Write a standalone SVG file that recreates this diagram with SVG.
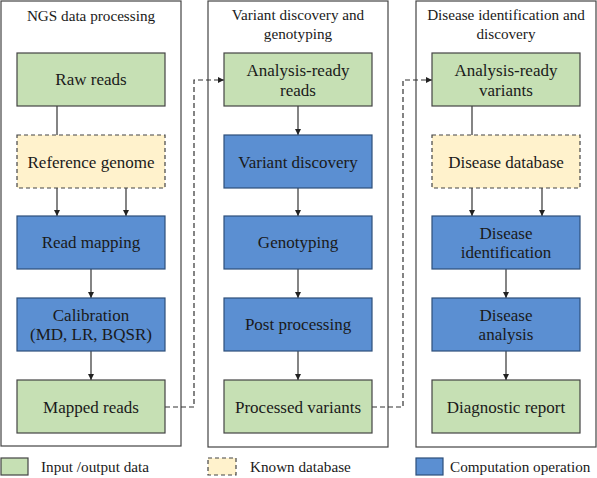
<svg xmlns="http://www.w3.org/2000/svg" width="597" height="478" viewBox="0 0 597 478">
<defs>
<marker id="ah" viewBox="0 0 8 8" refX="8" refY="4" markerWidth="6" markerHeight="6" orient="auto" markerUnits="userSpaceOnUse">
<path d="M0,0 L8,4 L0,8 z" fill="#222"/>
</marker>
<style>
text{font-family:"Times New Roman","Liberation Serif",Tinos,"Noto Serif","DejaVu Serif",serif;fill:#1a1a1a;text-anchor:middle}
.t{font-size:15.2px}
.b{font-size:17px}
.l{font-size:15.2px;text-anchor:start}
.panel{fill:#fff;stroke:#444;stroke-width:1.2}
.io{fill:#c6e0b4;stroke:#444;stroke-width:1.2}
.db{fill:#fff2cc;stroke:#444;stroke-width:1.2;stroke-dasharray:4,3}
.op{fill:#5b8fd2;stroke:#2e4f7a;stroke-width:1.2}
.c{fill:none;stroke:#333;stroke-width:1.2}
.d{fill:none;stroke:#333;stroke-width:1.2;stroke-dasharray:5,3}
</style>
</defs>
<rect width="597" height="478" fill="#fff"/>
<g id="panel1">
<rect class="panel" x="1" y="1" width="180" height="445"/>
<text class="t" x="91" y="21">NGS data processing</text>
</g>
<g id="panel2">
<rect class="panel" x="208" y="1" width="180" height="446"/>
<text class="t" x="298" y="20">Variant discovery and</text>
<text class="t" x="298" y="39">genotyping</text>
</g>
<g id="panel3">
<rect class="panel" x="416" y="1" width="180" height="446"/>
<text class="t" x="506" y="20">Disease identification and</text>
<text class="t" x="506" y="39">discovery</text>
</g>
<g id="connectors">
<line class="c" x1="57" y1="106" x2="57" y2="135"/>
<line class="c" x1="57" y1="188" x2="57" y2="216" marker-end="url(#ah)"/>
<line class="c" x1="126" y1="188" x2="126" y2="216" marker-end="url(#ah)"/>
<line class="c" x1="91" y1="269" x2="91" y2="298" marker-end="url(#ah)"/>
<line class="c" x1="91" y1="351" x2="91" y2="380" marker-end="url(#ah)"/>
<line class="c" x1="298" y1="106" x2="298" y2="135" marker-end="url(#ah)"/>
<line class="c" x1="298" y1="188" x2="298" y2="216" marker-end="url(#ah)"/>
<line class="c" x1="298" y1="269" x2="298" y2="298" marker-end="url(#ah)"/>
<line class="c" x1="298" y1="351" x2="298" y2="380" marker-end="url(#ah)"/>
<line class="c" x1="472" y1="106" x2="472" y2="135"/>
<line class="c" x1="472" y1="188" x2="472" y2="216" marker-end="url(#ah)"/>
<line class="c" x1="542" y1="188" x2="542" y2="216" marker-end="url(#ah)"/>
<line class="c" x1="506" y1="269" x2="506" y2="298" marker-end="url(#ah)"/>
<line class="c" x1="506" y1="351" x2="506" y2="380" marker-end="url(#ah)"/>
<path class="d" d="M165,407 H194 V80 H224" marker-end="url(#ah)"/>
<path class="d" d="M372,407 H403 V80 H432" marker-end="url(#ah)"/>
</g>
<g id="raw-reads"><rect class="io" x="17" y="53" width="148" height="53"/><text class="b" x="91" y="85">Raw reads</text></g>
<g id="reference-genome"><rect class="db" x="17" y="135" width="148" height="53"/><text class="b" x="91" y="168">Reference genome</text></g>
<g id="read-mapping"><rect class="op" x="17" y="216" width="148" height="53"/><text class="b" x="91" y="248">Read mapping</text></g>
<g id="calibration"><rect class="op" x="17" y="298" width="148" height="53"/><text class="b" x="91" y="321">Calibration</text><text class="b" x="91" y="340">(MD, LR, BQSR)</text></g>
<g id="mapped-reads"><rect class="io" x="17" y="380" width="148" height="53"/><text class="b" x="91" y="413">Mapped reads</text></g>
<g id="analysis-ready-reads"><rect class="io" x="224" y="53" width="148" height="53"/><text class="b" x="298" y="76">Analysis-ready</text><text class="b" x="298" y="96">reads</text></g>
<g id="variant-discovery"><rect class="op" x="224" y="135" width="148" height="53"/><text class="b" x="298" y="168">Variant discovery</text></g>
<g id="genotyping"><rect class="op" x="224" y="216" width="148" height="53"/><text class="b" x="298" y="248">Genotyping</text></g>
<g id="post-processing"><rect class="op" x="224" y="298" width="148" height="53"/><text class="b" x="298" y="330">Post processing</text></g>
<g id="processed-variants"><rect class="io" x="224" y="380" width="148" height="53"/><text class="b" x="298" y="413">Processed variants</text></g>
<g id="analysis-ready-variants"><rect class="io" x="432" y="53" width="148" height="53"/><text class="b" x="506" y="76">Analysis-ready</text><text class="b" x="506" y="96">variants</text></g>
<g id="disease-database"><rect class="db" x="432" y="135" width="148" height="53"/><text class="b" x="506" y="168">Disease database</text></g>
<g id="disease-identification"><rect class="op" x="432" y="216" width="148" height="53"/><text class="b" x="506" y="239">Disease</text><text class="b" x="506" y="258">identification</text></g>
<g id="disease-analysis"><rect class="op" x="432" y="298" width="148" height="53"/><text class="b" x="506" y="321">Disease</text><text class="b" x="506" y="340">analysis</text></g>
<g id="diagnostic-report"><rect class="io" x="432" y="380" width="148" height="53"/><text class="b" x="506" y="413">Diagnostic report</text></g>
<g id="legend">
<rect class="io" x="1" y="458" width="27" height="17"/><text class="l" x="41" y="472">Input /output data</text>
<rect class="db" x="208" y="458" width="28" height="17"/><text class="l" x="250" y="472">Known database</text>
<rect class="op" x="416" y="458" width="27" height="17"/><text class="l" x="450" y="472">Computation operation</text>
</g>
</svg>
